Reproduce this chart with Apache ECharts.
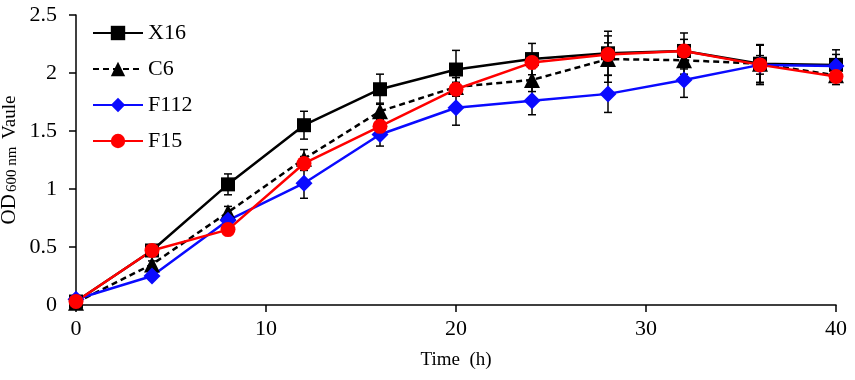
<!DOCTYPE html>
<html>
<head>
<meta charset="utf-8">
<script src="https://cdn.jsdelivr.net/npm/echarts@6/dist/echarts.min.js"></script>
<style>
    html, body { margin: 0; padding: 0; background: #fff; }
    #main { width: 855px; height: 380px; }
</style>
</head>
<body>
<div id="main"></div>
<script>
// sampling times (h)
var hours = [0, 4, 8, 12, 16, 20, 24, 28, 32, 36, 40];

// OD600 values
var x16 = [0.03, 0.47, 1.04, 1.55, 1.86, 2.03, 2.12, 2.17, 2.19, 2.08, 2.07];
var c6 = [0.02, 0.35, 0.80, 1.26, 1.67, 1.88, 1.94, 2.12, 2.11, 2.08, 1.98];
var f112 = [0.05, 0.25, 0.73, 1.05, 1.47, 1.70, 1.76, 1.82, 1.94, 2.07, 2.06];
var f15 = [0.03, 0.47, 0.65, 1.22, 1.54, 1.86, 2.09, 2.16, 2.19, 2.07, 1.97];

// error bars (+/-)
var x16Err = [0.02, 0.03, 0.09, 0.12, 0.13, 0.165, 0.135, 0.19, 0.155, 0.165, 0.13];
var c6Err = [0.02, 0.03, 0.05, 0.08, 0.07, 0.08, 0.10, 0.20, 0.12, 0.16, 0.08];
var f112Err = [0.02, 0.03, 0.04, 0.13, 0.10, 0.15, 0.12, 0.16, 0.15, 0.17, 0.10];
var f15Err = [0.02, 0.03, 0.03, 0.06, 0.06, 0.06, 0.05, 0.10, 0.10, 0.08, 0.05];

var FONT = 'Liberation Serif';

function pairs(ys) {
    var out = [];
    for (var i = 0; i < hours.length; i++) {
        out.push([hours[i], ys[i]]);
    }
    return out;
}

function errData(ys, errs) {
    var out = [];
    for (var i = 0; i < hours.length; i++) {
        out.push([hours[i], ys[i] - errs[i], ys[i] + errs[i]]);
    }
    return out;
}

function renderErr(params, api) {
    var lo = api.coord([api.value(0), api.value(1)]);
    var hi = api.coord([api.value(0), api.value(2)]);
    var w = 4;
    var style = { stroke: '#000', lineWidth: 1.5 };
    return {
        type: 'group',
        children: [
            { type: 'line', shape: { x1: lo[0], y1: lo[1], x2: hi[0], y2: hi[1] }, style: style },
            { type: 'line', shape: { x1: lo[0] - w, y1: lo[1], x2: lo[0] + w, y2: lo[1] }, style: style },
            { type: 'line', shape: { x1: hi[0] - w, y1: hi[1], x2: hi[0] + w, y2: hi[1] }, style: style }
        ]
    };
}

function errSeries(ys, errs) {
    return {
        type: 'custom',
        renderItem: renderErr,
        data: errData(ys, errs),
        z: 1,
        silent: true
    };
}

function lineSeries(name, ys, color, symbol, size, dashed) {
    return {
        name: name,
        type: 'line',
        data: pairs(ys),
        symbol: symbol,
        symbolSize: size,
        z: 3,
        itemStyle: { color: color },
        lineStyle: { color: color, width: 2.5, type: dashed ? [6, 4] : 'solid' }
    };
}

var myChart = echarts.init(document.getElementById('main'));

myChart.setOption({
    backgroundColor: '#fff',
    animation: false,
    grid: { left: 76, right: 19, top: 15, bottom: 75, outerBoundsMode: 'none', containLabel: false },
    legend: {
        orient: 'vertical',
        left: 87,
        top: 17,
        itemWidth: 50,
        itemHeight: 18,
        itemGap: 14,
        textStyle: { fontFamily: FONT, fontSize: 22, color: '#000' },
        data: ['X16', 'C6', 'F112', 'F15']
    },
    xAxis: {
        type: 'value',
        min: 0,
        max: 40,
        interval: 10,
        name: 'Time  (h)',
        nameLocation: 'middle',
        nameGap: 46,
        nameTextStyle: { fontFamily: FONT, fontSize: 19, color: '#000' },
        axisLine: { lineStyle: { color: '#000', width: 1.5 } },
        axisTick: { length: 7, lineStyle: { color: '#000', width: 1.5 } },
        axisLabel: { fontFamily: FONT, fontSize: 22, color: '#000', margin: 13 },
        splitLine: { show: false }
    },
    yAxis: {
        type: 'value',
        min: 0,
        max: 2.5,
        interval: 0.5,
        name: '{a|OD}{b|600 nm}{c| Vaule}',
        nameLocation: 'middle',
        nameRotate: 90,
        nameGap: 56,
        nameMoveOverlap: false,
        nameTextStyle: {
            fontFamily: FONT,
            color: '#000',
            rich: {
                a: { fontFamily: FONT, fontSize: 21, color: '#000', lineHeight: 24, verticalAlign: 'bottom' },
                b: { fontFamily: FONT, fontSize: 15, color: '#000', lineHeight: 24, verticalAlign: 'bottom', padding: [0, 3, 0, 2] },
                c: { fontFamily: FONT, fontSize: 19, color: '#000', lineHeight: 24, verticalAlign: 'bottom' }
            }
        },
        axisLine: { show: true, lineStyle: { color: '#000', width: 1.5 } },
        axisTick: { show: true, length: 7, lineStyle: { color: '#000', width: 1.5 } },
        axisLabel: { fontFamily: FONT, fontSize: 22, color: '#000', margin: 19 },
        splitLine: { show: false }
    },
    series: [
        errSeries(x16, x16Err),
        errSeries(c6, c6Err),
        errSeries(f112, f112Err),
        errSeries(f15, f15Err),
        lineSeries('X16', x16, '#000000', 'rect', 14, false),
        lineSeries('C6', c6, '#000000', 'triangle', 16, true),
        lineSeries('F112', f112, '#0a0aff', 'diamond', 17, false),
        lineSeries('F15', f15, '#ff0000', 'circle', 15, false)
    ]
});
</script>
</body>
</html>
